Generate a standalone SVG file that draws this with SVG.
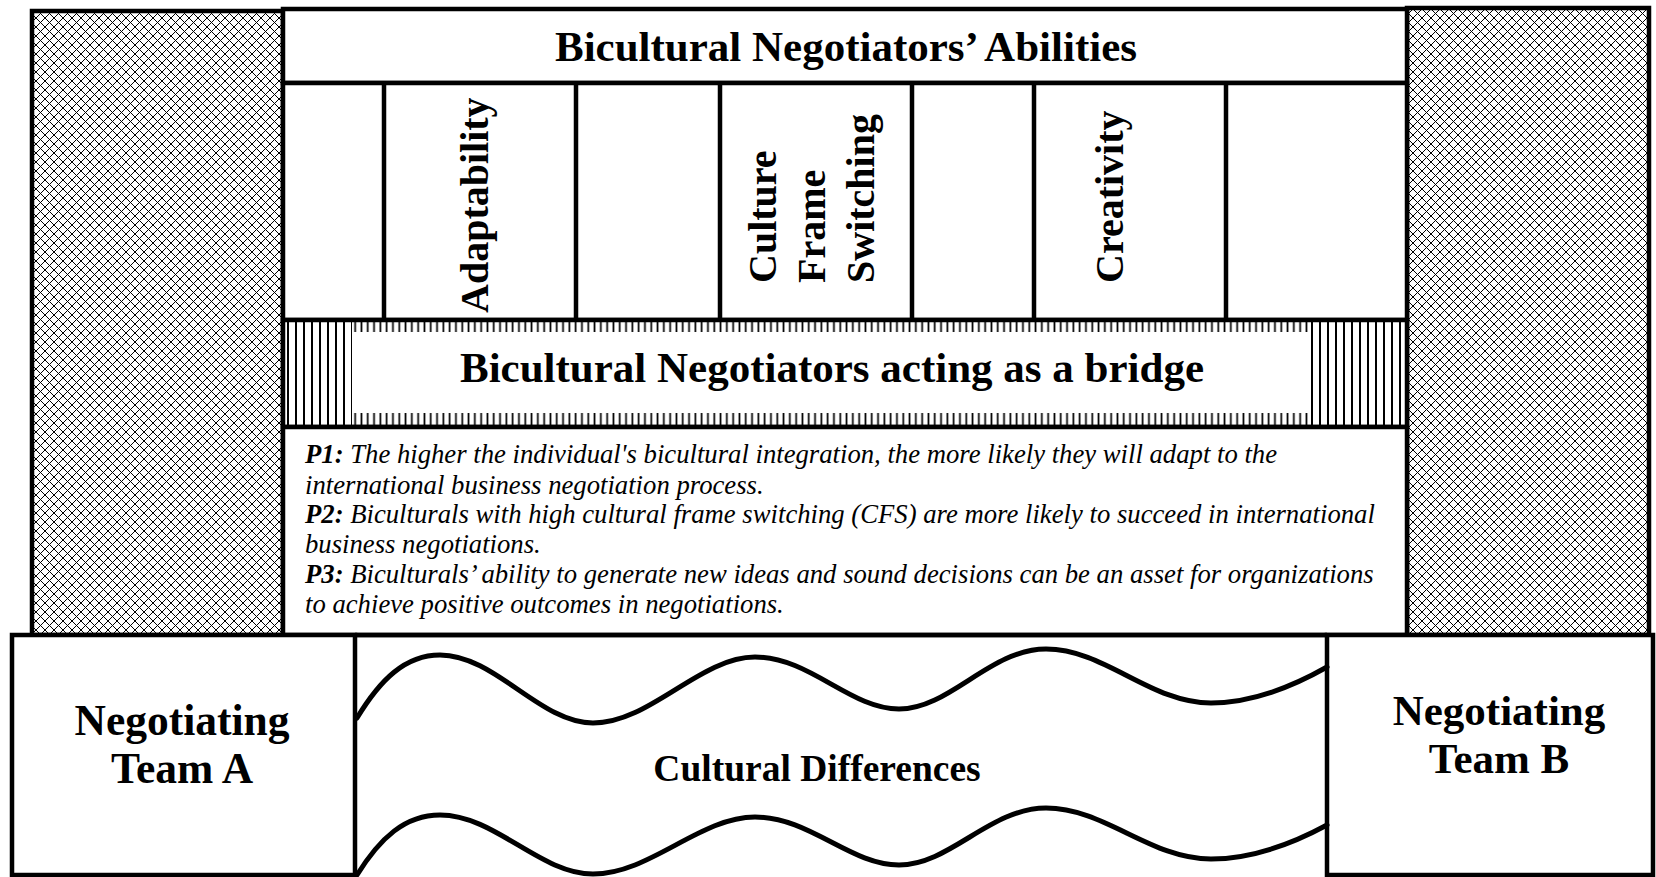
<svg xmlns="http://www.w3.org/2000/svg" width="1656" height="877" viewBox="0 0 1656 877">
  <style>
    .box { fill: #fff; stroke: #000; stroke-width: 4.5; }
    .hatch { fill: url(#diamond); stroke: #000; stroke-width: 4.5; }
    .line { stroke: #000; stroke-width: 4.5; fill: none; }
    .wave { stroke: #000; stroke-width: 5; fill: none; stroke-linecap: round; }
    .head { font-family: "Liberation Serif", "Times New Roman", serif; font-weight: bold; fill: #000; }
    .prop { font-family: "Liberation Serif", "Times New Roman", serif; font-style: italic; font-size: 26.7px; fill: #000; }
    .prop .lbl { font-weight: bold; }
  </style>
  <defs>
    <!-- pixel-stepped diagonal lattice, 9px cell -->
    <pattern id="diamond" width="9" height="9" patternUnits="userSpaceOnUse">
      <rect width="9" height="9" fill="#fff"/>
      <path fill="#000" shape-rendering="crispEdges" d="M0,0h1v1h-1z M1,1h1v1h-1z M2,2h1v1h-1z M3,3h1v1h-1z M4,4h1v1h-1z M5,5h1v1h-1z M6,6h1v1h-1z M7,7h1v1h-1z M8,8h1v1h-1z M8,0h1v1h-1z M7,1h1v1h-1z M6,2h1v1h-1z M5,3h1v1h-1z M3,5h1v1h-1z M2,6h1v1h-1z M1,7h1v1h-1z M0,8h1v1h-1z"/>
    </pattern>
    <pattern id="vstripe" x="284" width="8" height="10" patternUnits="userSpaceOnUse">
      <rect width="8" height="10" fill="#fff"/>
      <rect x="3" y="0" width="2" height="10" fill="#000"/>
    </pattern>
    <pattern id="tick" x="352" width="6.3" height="10" patternUnits="userSpaceOnUse">
      <rect width="6.3" height="10" fill="#fff"/>
      <rect x="2.3" y="0" width="1.7" height="10" fill="#000"/>
    </pattern>
  </defs>

  <!-- side pillars -->
  <g id="pillar-left">
    <rect class="hatch" x="32" y="11" width="251" height="624"/>
  </g>
  <g id="pillar-right">
    <rect class="hatch" x="1407" y="8" width="242" height="627"/>
  </g>

  <!-- abilities header -->
  <g id="abilities-title">
    <rect class="box" x="283" y="9" width="1124" height="74"/>
    <text class="head" x="846" y="61" font-size="43" text-anchor="middle">Bicultural Negotiators’ Abilities</text>
  </g>

  <!-- ability columns -->
  <g id="abilities-columns">
    <rect class="box" x="283" y="83" width="1124" height="237"/>
    <path class="line" d="M384,83 V320 M576,83 V320 M720,83 V320 M912,83 V320 M1034,83 V320 M1226,83 V320"/>
  </g>
  <g id="ability-adaptability">
    <text class="head" font-size="40" transform="translate(488,313) rotate(-90)">Adaptability</text>
  </g>
  <g id="ability-cfs">
    <text class="head" font-size="40" transform="translate(776,283) rotate(-90)">Culture</text>
    <text class="head" font-size="40" transform="translate(825,283) rotate(-90)">Frame</text>
    <text class="head" font-size="40" transform="translate(874,283) rotate(-90)">Switching</text>
  </g>
  <g id="ability-creativity">
    <text class="head" font-size="40" transform="translate(1123,283) rotate(-90)">Creativity</text>
  </g>

  <!-- bridge band -->
  <g id="bridge">
    <rect x="283" y="320" width="1124" height="107" fill="#fff"/>
    <rect x="283" y="320" width="69" height="107" fill="url(#vstripe)"/>
    <rect x="1310" y="320" width="97" height="107" fill="url(#vstripe)"/>
    <rect x="352" y="322" width="958" height="10" fill="url(#tick)"/>
    <rect x="352" y="413" width="958" height="12" fill="url(#tick)"/>
    <rect x="283" y="320" width="1124" height="107" fill="none" stroke="#000" stroke-width="4.5"/>
    <text class="head" x="832" y="382" font-size="43" text-anchor="middle">Bicultural Negotiators acting as a bridge</text>
  </g>

  <!-- propositions -->
  <g id="propositions">
    <rect class="box" x="283" y="427" width="1124" height="208"/>
    <text class="prop" x="305" y="463"><tspan class="lbl">P1:</tspan> The higher the individual's bicultural integration, the more likely they will adapt to the</text>
    <text class="prop" x="305" y="494">international business negotiation process.</text>
    <text class="prop" x="305" y="523"><tspan class="lbl">P2:</tspan> Biculturals with high cultural frame switching (CFS) are more likely to succeed in international</text>
    <text class="prop" x="305" y="553">business negotiations.</text>
    <text class="prop" x="305" y="583"><tspan class="lbl">P3:</tspan> Biculturals’ ability to generate new ideas and sound decisions can be an asset for organizations</text>
    <text class="prop" x="305" y="613">to achieve positive outcomes in negotiations.</text>
  </g>

  <!-- negotiating teams -->
  <g id="team-a">
    <rect class="box" x="12" y="635" width="343" height="240"/>
    <text class="head" x="182" y="735" font-size="43.5" text-anchor="middle">Negotiating</text>
    <text class="head" x="182" y="783" font-size="43.5" text-anchor="middle">Team A</text>
  </g>
  <g id="team-b">
    <rect class="box" x="1327" y="635" width="326" height="240"/>
    <text class="head" x="1499" y="725" font-size="43" text-anchor="middle">Negotiating</text>
    <text class="head" x="1499" y="773" font-size="43" text-anchor="middle">Team B</text>
  </g>

  <!-- cultural gap between the teams -->
  <g id="cultural-differences">
    <text class="head" x="817" y="781" font-size="37.5" text-anchor="middle">Cultural Differences</text>
  </g>

  <g id="connectors">
    <path class="line" d="M355,635 H1327"/>
    <path class="wave" d="M357,718 C380,680 405,655 440,655 C495,655 540,723 593,723 C650,723 700,657 755,657 C810,657 850,709 899,709 C950,709 990,649 1046,649 C1105,649 1150,703 1211,703 C1250,703 1290,688 1327,667"/>
    <path class="wave" d="M357,875 C380,838 405,815 440,815 C495,815 540,874 593,874 C650,874 700,817 755,817 C810,817 850,865 899,865 C950,865 990,808 1046,808 C1105,808 1150,859 1211,859 C1250,859 1290,845 1327,825"/>
  </g>
</svg>
